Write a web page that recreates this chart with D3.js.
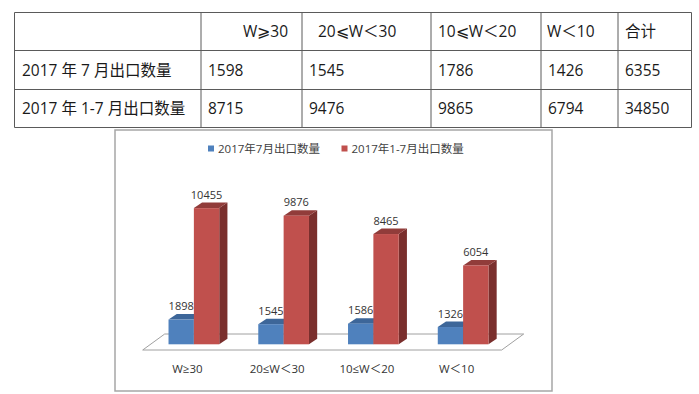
<!DOCTYPE html>
<html>
<head>
<meta charset="utf-8">
<script src="https://cdn.jsdelivr.net/npm/d3@7"></script>
<style>
  body { margin: 0; background: #fff; }
  svg { display: block; }
  text { font-family: "Open Sans", "Noto Sans CJK SC", sans-serif; }
</style>
</head>
<body>
<svg id="vis" width="699" height="394"></svg>
<script>
// table data
const tableHeaders = ['W⩾30', '20⩽W＜30', '10⩽W＜20', 'W＜10', '合计'];
const tableRowLabels = ['2017 年 7 月出口数量', '2017 年 1-7 月出口数量'];
const tableJuly = [1598, 1545, 1786, 1426, 6355];
const tableYtd = [8715, 9476, 9865, 6794, 34850];

// chart data
const categories = ['W≥30', '20≤W＜30', '10≤W＜20', 'W＜10'];
const seriesNames = ['2017年7月出口数量', '2017年1-7月出口数量'];
const julyValues = [1898, 1545, 1586, 1326];
const ytdValues = [10455, 9876, 8465, 6054];

const svg = d3.select('#vis');

// ---- table ----
const colEdges = [14.5, 201, 302, 431, 541, 618, 691.5];
const rowEdges = [12.5, 50.5, 89.5, 127.5];
const headerX = [243, 318, 438, 547, 625];

const table = svg.append('g').attr('class', 'table');

table.selectAll('.hline')
  .data(rowEdges)
  .join('line')
  .attr('x1', colEdges[0]).attr('x2', colEdges[colEdges.length - 1])
  .attr('y1', d => d).attr('y2', d => d)
  .attr('stroke', '#5a5a5a').attr('stroke-width', 1);

table.selectAll('.vline')
  .data(colEdges)
  .join('line')
  .attr('x1', d => d).attr('x2', d => d)
  .attr('y1', rowEdges[0]).attr('y2', rowEdges[rowEdges.length - 1])
  .attr('stroke', '#5a5a5a').attr('stroke-width', 1);

const rowMid = i => (rowEdges[i] + rowEdges[i + 1]) / 2;

table.selectAll('.hdr')
  .data(tableHeaders)
  .join('text')
  .attr('x', (d, i) => headerX[i])
  .attr('y', rowMid(0))
  .attr('dy', '0.36em')
  .attr('font-size', '15.5px')
  .attr('fill', '#1a1a1a')
  .text(d => d);

[tableJuly, tableYtd].forEach((row, r) => {
  table.append('text')
    .attr('x', 22)
    .attr('y', rowMid(r + 1))
    .attr('dy', '0.36em')
    .attr('font-size', '15.5px')
    .attr('fill', '#1a1a1a')
    .text(tableRowLabels[r]);

  table.selectAll('.cell' + r)
    .data(row)
    .join('text')
    .attr('x', (d, i) => colEdges[i + 1] + 7)
    .attr('y', rowMid(r + 1))
    .attr('dy', '0.36em')
    .attr('font-size', '15.5px')
    .attr('fill', '#1a1a1a')
    .text(d => d);
});

// ---- chart frame ----
svg.append('rect')
  .attr('x', 115).attr('y', 130)
  .attr('width', 437).attr('height', 261)
  .attr('fill', '#fff')
  .attr('stroke', '#a6a6a6').attr('stroke-width', 1.5);

// legend
const legendColors = ['#4f81bd', '#c0504d'];
const legendX = [208, 341.5];
const legend = svg.append('g').selectAll('g')
  .data(seriesNames)
  .join('g')
  .attr('transform', (d, i) => `translate(${legendX[i]},145.5)`);
legend.append('rect')
  .attr('width', 6).attr('height', 6)
  .attr('fill', (d, i) => legendColors[i]);
legend.append('text')
  .attr('x', 10).attr('y', 7)
  .attr('font-size', '11.5px')
  .attr('fill', '#404040')
  .text(d => d);

// scales
const x0 = d3.scaleBand().domain(categories).range([149, 508]);
const x1 = d3.scaleBand().domain([0, 1]).range([0, x0.bandwidth()]).paddingOuter(0.77);
const y = d3.scaleLinear().domain([0, 12000]).range([344.3, 188]);

const depth = { dx: 8.2, dy: -5.5 };

// floor
const floorFront = { dx: -6.3, dy: 5.7 };
const floorBack = { dx: 15.7, dy: -10.3 };
const [rx0, rx1] = x0.range();
const base = y(0);
const floorPts = [
  [rx0 + floorFront.dx, base + floorFront.dy],
  [rx0 + floorBack.dx, base + floorBack.dy],
  [rx1 + floorBack.dx, base + floorBack.dy],
  [rx1 + floorFront.dx, base + floorFront.dy]
];
svg.append('polygon')
  .attr('points', floorPts.map(p => p.join(',')).join(' '))
  .attr('fill', '#fff')
  .attr('stroke', '#a0a0a0')
  .attr('stroke-width', 1);

// bars
const barData = [];
categories.forEach((c, i) => {
  barData.push({ cat: c, s: 0, v: julyValues[i] });
  barData.push({ cat: c, s: 1, v: ytdValues[i] });
});

const faceColors = [
  { front: '#4f81bd', top: '#3d6699', side: '#2f4f78' },
  { front: '#c0504d', top: '#913c3a', side: '#7a2f2d' }
];

const bars = svg.append('g').selectAll('g')
  .data(barData)
  .join('g');

bars.each(function(d) {
  const g = d3.select(this);
  const xl = x0(d.cat) + x1(d.s);
  const xr = xl + x1.bandwidth();
  const yt = y(d.v);
  const yb = y(0);
  const col = faceColors[d.s];
  const pts = a => a.map(p => p.join(',')).join(' ');
  g.append('polygon')
    .attr('points', pts([[xr, yb], [xr, yt], [xr + depth.dx, yt + depth.dy], [xr + depth.dx, yb + depth.dy]]))
    .attr('fill', col.side);
  g.append('polygon')
    .attr('points', pts([[xl, yt], [xl + depth.dx, yt + depth.dy], [xr + depth.dx, yt + depth.dy], [xr, yt]]))
    .attr('fill', col.top);
  g.append('rect')
    .attr('x', xl).attr('y', yt)
    .attr('width', x1.bandwidth()).attr('height', yb - yt)
    .attr('fill', col.front);
  g.append('text')
    .attr('x', (xl + xr) / 2)
    .attr('y', yt - 9.3)
    .attr('text-anchor', 'middle')
    .attr('font-size', '11px')
    .attr('fill', '#333')
    .text(d.v);
});

// category labels
svg.append('g').selectAll('text')
  .data(categories)
  .join('text')
  .attr('x', d => x0(d) + x0.bandwidth() / 2 - 6.5)
  .attr('y', 373)
  .attr('text-anchor', 'middle')
  .attr('font-size', '11.5px')
  .attr('fill', '#333')
  .text(d => d);
</script>
</body>
</html>
